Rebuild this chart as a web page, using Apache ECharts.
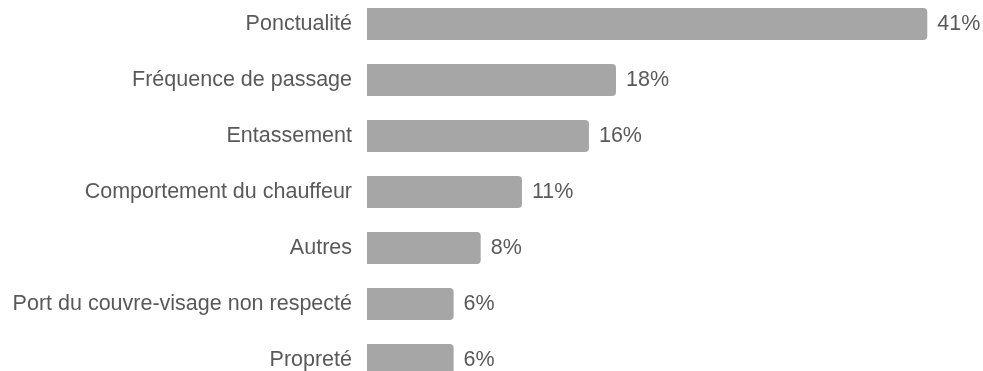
<!DOCTYPE html>
<html>
<head>
<meta charset="utf-8">
<script src="https://cdn.jsdelivr.net/npm/echarts@6/dist/echarts.min.js"></script>
<style>
  html, body { margin: 0; padding: 0; background: #fff; overflow: hidden; }
  /* the chart runs past the bottom edge of the picture, as in the source */
  #chart { position: absolute; left: 0; top: -4px; width: 983px; height: 392px; }
</style>
</head>
<body>
<div id="chart"></div>
<script>
// catégories (de haut en bas)
const categories = [
  'Ponctualité',
  'Fréquence de passage',
  'Entassement',
  'Comportement du chauffeur',
  'Autres',
  'Port du couvre-visage non respecté',
  'Propreté'
]
// parts estimées d'après la longueur des barres (affichées arrondies)
const shares = [41.4, 18.4, 16.4, 11.45, 8.4, 6.4, 6.4]

const chart = echarts.init(document.getElementById('chart'))

const option = {
  animation: false,
  textStyle: {
    fontFamily: 'Liberation Sans, Arial, sans-serif'
  },
  grid: {
    left: 367,
    right: 7,
    top: 0,
    bottom: 0,
    containLabel: false
  },
  xAxis: {
    type: 'value',
    min: 0,
    max: 45,
    show: false
  },
  yAxis: {
    type: 'category',
    inverse: true,
    data: categories,
    axisLine: { show: false },
    axisTick: { show: false },
    splitLine: { show: false },
    axisLabel: {
      color: '#595959',
      fontSize: 21.5,
      margin: 15
    }
  },
  series: [
    {
      type: 'bar',
      data: shares,
      barWidth: 32,
      itemStyle: {
        color: '#a6a6a6',
        borderRadius: [0, 4, 4, 0]
      },
      label: {
        show: true,
        position: 'right',
        distance: 10,
        color: '#595959',
        fontSize: 21.5,
        formatter: (p) => Math.round(p.value) + '%'
      }
    }
  ]
}

chart.setOption(option)
</script>
</body>
</html>
